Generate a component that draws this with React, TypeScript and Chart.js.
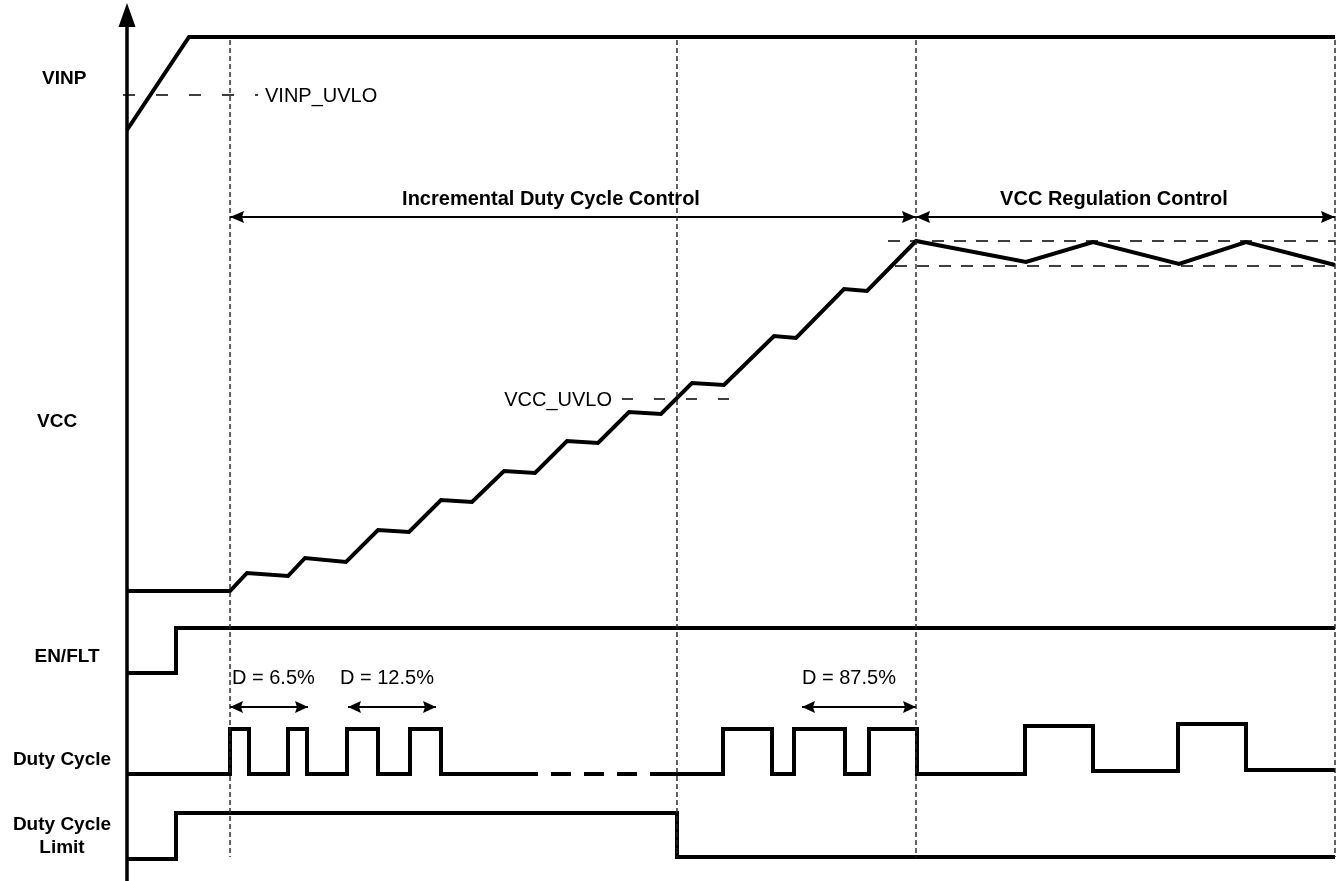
import React, { useEffect, useRef } from "react";
import { Chart, registerables } from "chart.js";

Chart.register(...registerables);

// ---- Waveform data (time in diagram units left->right, level in diagram units top->bottom) ----
const vinpTime = [127, 189, 1335];
const vinpLevel = [130, 37, 37];

const vccTime = [127, 230, 247, 288, 305, 346, 378, 409, 441, 472, 504, 535, 567, 598, 629, 661, 692, 724, 774, 796, 844, 867, 916, 1026, 1093, 1179, 1246, 1335];
const vccLevel = [591, 591, 573, 576, 558, 562, 530, 532, 500, 502, 471, 473, 441, 443, 412, 414, 383, 385, 336, 338, 289, 291, 241, 262, 242, 264, 242, 265];

const enTime = [127, 176, 1335];
const enLevel = [673, 628, 628];

const dutyTimeA = [127, 230, 249, 288, 307, 347, 378, 410, 441, 538];
const dutyLevelA = [774, 729, 774, 729, 774, 729, 774, 729, 774, 774];
const dutyGapTime = [538, 652];
const dutyGapLevel = [774, 774];
const dutyTimeB = [652, 723, 772, 794, 845, 869, 917, 1025, 1093, 1178, 1246, 1335];
const dutyLevelB = [774, 729, 774, 729, 774, 729, 774, 726, 771, 724, 770, 770];

const limitTime = [127, 176, 677, 1335];
const limitLevel = [859, 813, 857, 857];

const axisTime = [127, 127];
const axisLevel = [881, 22];

const phaseMarkers = [230, 677, 916, 1335];
const markerRange = [40, 857];

const vinpUvloLevel = 95;
const vinpUvloRange = [123, 258];
const vccUvloLevel = 399;
const vccUvloRange = [622, 734];
const vccRegHigh = 241;
const vccRegHighRange = [888, 1335];
const vccRegLow = 266;
const vccRegLowRange = [895, 1335];

const phaseArrowLevel = 217;
const phaseSpans = [[230, 916], [916, 1335]];
const dutyArrowLevel = 707;
const dutySpans = [[230, 308], [348, 436], [802, 916]];

const FONT = '"Liberation Sans", Arial, Helvetica, sans-serif';
const labels = [
  { text: "VINP", t: 42, v: 84, align: "left", weight: "bold", size: 19 },
  { text: "VINP_UVLO", t: 265, v: 102, align: "left", weight: "normal", size: 20 },
  { text: "Incremental Duty Cycle Control", t: 551, v: 205, align: "center", weight: "bold", size: 20 },
  { text: "VCC Regulation Control", t: 1114, v: 205, align: "center", weight: "bold", size: 20 },
  { text: "VCC", t: 37, v: 427, align: "left", weight: "bold", size: 19 },
  { text: "VCC_UVLO", t: 612, v: 406, align: "right", weight: "normal", size: 20 },
  { text: "EN/FLT", t: 67, v: 662, align: "center", weight: "bold", size: 19 },
  { text: "D = 6.5%", t: 232, v: 684, align: "left", weight: "normal", size: 20 },
  { text: "D = 12.5%", t: 340, v: 684, align: "left", weight: "normal", size: 20 },
  { text: "D = 87.5%", t: 802, v: 684, align: "left", weight: "normal", size: 20 },
  { text: "Duty Cycle", t: 62, v: 765, align: "center", weight: "bold", size: 19 },
  { text: "Duty Cycle", t: 62, v: 830, align: "center", weight: "bold", size: 19 },
  { text: "Limit", t: 62, v: 853, align: "center", weight: "bold", size: 19 },
];

const zip = (t: number[], v: number[]) => t.map((x, i) => ({ x, y: v[i] }));

const arrowPlugin = {
  id: "arrowHeads",
  afterDatasetsDraw(chart: any) {
    const ctx = chart.ctx;
    chart.data.datasets.forEach((ds: any, i: number) => {
      const a = ds.arrow;
      if (!a) return;
      const pts = chart.getDatasetMeta(i).data;
      if (pts.length < 2) return;
      const draw = (tip: any, from: any) => {
        const dx = tip.x - from.x;
        const dy = tip.y - from.y;
        const d = Math.hypot(dx, dy) || 1;
        const ux = dx / d;
        const uy = dy / d;
        const ext = a.extend || 0;
        const tx = tip.x + ux * ext;
        const ty = tip.y + uy * ext;
        const bx = tx - ux * a.len;
        const by = ty - uy * a.len;
        ctx.save();
        ctx.beginPath();
        ctx.moveTo(tx, ty);
        ctx.lineTo(bx - uy * a.half, by + ux * a.half);
        ctx.lineTo(bx + ux * a.notch, by + uy * a.notch);
        ctx.lineTo(bx + uy * a.half, by - ux * a.half);
        ctx.closePath();
        ctx.fillStyle = "#000";
        ctx.fill();
        ctx.restore();
      };
      if (a.start) draw(pts[0], pts[1]);
      if (a.end) draw(pts[pts.length - 1], pts[pts.length - 2]);
    });
  },
};

const textPlugin = {
  id: "diagramText",
  afterDatasetsDraw(chart: any) {
    const ctx = chart.ctx;
    const xs = chart.scales.x;
    const ys = chart.scales.y;
    ctx.save();
    ctx.fillStyle = "#000";
    ctx.textBaseline = "alphabetic";
    labels.forEach((l) => {
      ctx.font = `${l.weight} ${l.size}px ${FONT}`;
      ctx.textAlign = l.align as CanvasTextAlign;
      ctx.fillText(l.text, xs.getPixelForValue(l.t), ys.getPixelForValue(l.v));
    });
    ctx.restore();
  },
};

export default function App() {
  const ref = useRef<HTMLCanvasElement | null>(null);

  useEffect(() => {
    document.body.style.margin = "0";
    document.body.style.overflow = "hidden";
    const wave = (data: any[], extra: any = {}) => ({
      data,
      showLine: true,
      borderColor: "#000",
      backgroundColor: "#000",
      borderWidth: 4,
      pointRadius: 0,
      fill: false,
      tension: 0,
      borderJoinStyle: "miter",
      borderCapStyle: "butt",
      clip: false,
      ...extra,
    });
    const dashed = (data: any[], dash: number[], extra: any = {}) =>
      wave(data, { borderWidth: 1.5, borderDash: dash, ...extra });

    const datasets: any[] = [];
    // vertical phase markers
    phaseMarkers.forEach((t) => {
      datasets.push(dashed(zip([t, t], markerRange), [5, 3], { borderColor: "#222", borderWidth: 1.4 }));
    });
    // thresholds
    datasets.push(dashed(zip(vinpUvloRange, [vinpUvloLevel, vinpUvloLevel]), [12, 21]));
    datasets.push(dashed(zip(vccUvloRange, [vccUvloLevel, vccUvloLevel]), [11, 21]));
    datasets.push(dashed(zip(vccRegHighRange, [vccRegHigh, vccRegHigh]), [12, 10]));
    datasets.push(dashed(zip(vccRegLowRange, [vccRegLow, vccRegLow]), [12, 10]));
    // span arrows
    phaseSpans.forEach((s) => {
      datasets.push(wave(zip(s, [phaseArrowLevel, phaseArrowLevel]), { borderWidth: 1.8, arrow: { start: true, end: true, len: 14, half: 6, notch: 2 } }));
    });
    dutySpans.forEach((s) => {
      datasets.push(wave(zip(s, [dutyArrowLevel, dutyArrowLevel]), { borderWidth: 1.8, arrow: { start: true, end: true, len: 13, half: 6, notch: 2 } }));
    });
    // axis
    datasets.push(wave(zip(axisTime, axisLevel), { borderWidth: 3.5, arrow: { end: true, len: 24, half: 8.5, notch: 0, extend: 19 } }));
    // waveforms
    datasets.push(wave(zip(vinpTime, vinpLevel)));
    datasets.push(wave(zip(vccTime, vccLevel)));
    datasets.push(wave(zip(enTime, enLevel), { stepped: "before" }));
    datasets.push(wave(zip(dutyTimeA, dutyLevelA), { stepped: "before" }));
    datasets.push(wave(zip(dutyGapTime, dutyGapLevel), { borderDash: [20, 13], borderDashOffset: 20 }));
    datasets.push(wave(zip(dutyTimeB, dutyLevelB), { stepped: "before" }));
    datasets.push(wave(zip(limitTime, limitLevel), { stepped: "before" }));

    const chart = new Chart(ref.current as HTMLCanvasElement, {
      type: "scatter",
      data: { datasets },
      options: {
        animation: false,
        responsive: true,
        maintainAspectRatio: false,
        events: [],
        layout: { padding: 0 },
        plugins: { legend: { display: false }, tooltip: { enabled: false } },
        scales: {
          x: { type: "linear", min: 0, max: 1341, display: false },
          y: { type: "linear", min: 0, max: 881, reverse: true, display: false },
        },
      },
      plugins: [arrowPlugin, textPlugin],
    } as any);
    return () => chart.destroy();
  }, []);

  return (
    <div style={{ width: 1341, height: 881, position: "relative", background: "#fff" }}>
      <canvas ref={ref} />
    </div>
  );
}
